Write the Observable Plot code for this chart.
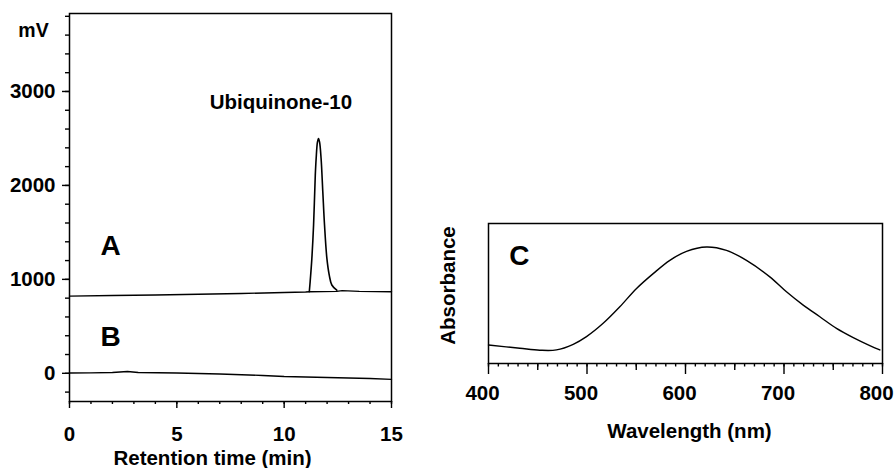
<!DOCTYPE html>
<html>
<head>
<meta charset="utf-8">
<script src="https://cdn.jsdelivr.net/npm/d3@7"></script>
<script src="https://cdn.jsdelivr.net/npm/@observablehq/plot@0.6"></script>
<style>
  html, body { margin: 0; padding: 0; background: #fff; }
  #wrap { position: relative; width: 896px; height: 468px; overflow: hidden; }
  #left, #right { position: absolute; top: 0; }
  #left { left: 0; }
  #right { left: 420px; }
  svg { overflow: visible; background: transparent !important; }
</style>
</head>
<body>
<div id="wrap"><div id="left"></div><div id="right"></div></div>
<script>
// ---- Panel A/B: HPLC chromatogram ----
const baseATime = [0, 2, 4, 6, 8, 10, 11, 11.17, 12.45, 12.7, 13.5, 15];
const baseAValue = [822, 828, 834, 842, 850, 860, 866, 868, 872, 880, 872, 868];

const peakTime  = [11.17, 11.21, 11.29, 11.37, 11.45, 11.49, 11.55, 11.60, 11.65, 11.72, 11.80, 11.88, 11.99, 12.10, 12.22, 12.45];
const peakValue = [868, 974, 1223, 1578, 2110, 2287, 2460, 2500, 2460, 2287, 1932, 1578, 1223, 1046, 940, 885];

const baseBTime  = [0, 1, 2, 2.7, 3.2, 5, 7, 9, 10, 11, 12, 13, 14, 15];
const baseBValue = [3, 5, 8, 20, 8, 3, -7, -23, -34, -39, -45, -50, -55, -64];

const yMajorTicks = [0, 1000, 2000, 3000];
const yMinorTicks = d3.range(-200, 3801, 200);
const xMajorTicks = [0, 5, 10, 15];
const xMinorTicks = d3.range(0, 16, 1);

const chromLabels = ["A", "B"];
const chromLabelT = [1.92, 1.92];
const chromLabelV = [1356, 389];
const peakName = "Ubiquinone-10";
const peakNameT = 9.85;
const peakNameV = 2881;

// ---- Panel C: absorption spectrum ----
const wavelength = [400, 431.8, 452, 469, 486, 499.5, 516.4, 533.3, 550.3, 567.2, 584.1, 601, 621.3, 641.6, 661.9, 685.6, 702.5, 719.5, 736.4, 753.3, 770.3, 787.1, 797.3];
const absorbance = [0.132, 0.109, 0.095, 0.097, 0.137, 0.192, 0.287, 0.405, 0.536, 0.642, 0.737, 0.801, 0.832, 0.808, 0.737, 0.619, 0.512, 0.417, 0.334, 0.251, 0.185, 0.128, 0.097];
const wlMajor = [400, 500, 600, 700, 800];
const wlMid = d3.range(450, 800, 100);
const wlMinor = d3.range(400, 801, 10);
const panelC = "C";

const FS = 20.5;
const FONT = {fontFamily: "'Liberation Sans', Arial, sans-serif", fontSize: FS + "px", fontWeight: "bold", color: "#000"};
const SW = 1.4;

const baseA = baseATime.map((t, i) => ({t, v: baseAValue[i]}));
const peak = peakTime.map((t, i) => ({t, v: peakValue[i]}));
const baseB = baseBTime.map((t, i) => ({t, v: baseBValue[i]}));
const labs = chromLabels.map((l, i) => ({l, t: chromLabelT[i], v: chromLabelV[i]}));

const TXT = {fontWeight: "bold", fill: "#000", textAnchor: "middle", lineAnchor: "middle"};

const left = Plot.plot({
  width: 420, height: 468,
  marginLeft: 69, marginTop: 13, marginRight: 29, marginBottom: 67,
  style: FONT,
  x: {domain: [0, 15], axis: null},
  y: {domain: [-300, 3830], axis: null},
  marks: [
    Plot.frame({stroke: "#000", strokeWidth: 1.5}),
    Plot.axisY(yMinorTicks, {tickSize: 4, fill: "none", strokeWidth: SW}),
    Plot.axisY(yMajorTicks, {tickSize: 7, tickPadding: 7, strokeWidth: SW, tickFormat: d => String(d), label: null, fontSize: FS, fontWeight: "bold"}),
    Plot.axisX(xMinorTicks, {tickSize: 3, fill: "none", strokeWidth: SW}),
    Plot.axisX(xMajorTicks, {tickSize: 7, tickPadding: 18, strokeWidth: SW, tickFormat: d => String(d), label: null, fontSize: FS, fontWeight: "bold"}),
    Plot.line(baseA, {x: "t", y: "v", stroke: "#000", strokeWidth: SW}),
    Plot.line(peak, {x: "t", y: "v", stroke: "#000", strokeWidth: 1.6, curve: "catmull-rom"}),
    Plot.line(baseB, {x: "t", y: "v", stroke: "#000", strokeWidth: SW}),
    Plot.text(labs, {x: "t", y: "v", text: "l", fontSize: 28, ...TXT}),
    Plot.text([peakName], {x: () => peakNameT, y: () => peakNameV, text: d => d, fontSize: FS, ...TXT}),
    Plot.text(["mV"], {frameAnchor: "top-left", dx: -36, dy: 17, text: d => d, fontSize: 19.5, ...TXT}),
    Plot.text(["Retention time (min)"], {frameAnchor: "bottom", dx: -18, dy: 57, text: d => d, fontSize: FS, ...TXT})
  ]
});
document.getElementById("left").appendChild(left);

const spec = wavelength.map((w, i) => ({w, a: absorbance[i]}));

const right = Plot.plot({
  width: 476, height: 468,
  marginLeft: 68, marginTop: 223, marginRight: 14, marginBottom: 105,
  style: FONT,
  x: {domain: [400, 800], axis: null},
  y: {domain: [0, 1], axis: null},
  marks: [
    Plot.frame({stroke: "#000", strokeWidth: 1.5}),
    Plot.axisX(wlMinor, {tickSize: 3.5, fill: "none", strokeWidth: SW}),
    Plot.axisX(wlMid, {tickSize: 7, fill: "none", strokeWidth: SW}),
    Plot.axisX(wlMajor, {tickSize: 11, stroke: "#000", fill: "none", strokeWidth: SW}),
    Plot.axisX(wlMajor, {tickSize: 11, tickPadding: 11, stroke: "none", dx: -6, tickFormat: d => String(d), label: null, fontSize: FS, fontWeight: "bold"}),
    Plot.line(spec, {x: "w", y: "a", stroke: "#000", strokeWidth: SW, curve: "catmull-rom"}),
    Plot.text([panelC], {x: () => 431.3, y: () => 0.767, text: d => d, fontSize: 28, ...TXT}),
    Plot.text(["Absorbance"], {frameAnchor: "left", dx: -40, dy: -8, rotate: -90, text: d => d, fontSize: FS, ...TXT}),
    Plot.text(["Wavelength (nm)"], {frameAnchor: "bottom", dx: 4, dy: 68, text: d => d, fontSize: FS, ...TXT})
  ]
});
document.getElementById("right").appendChild(right);
</script>
</body>
</html>
